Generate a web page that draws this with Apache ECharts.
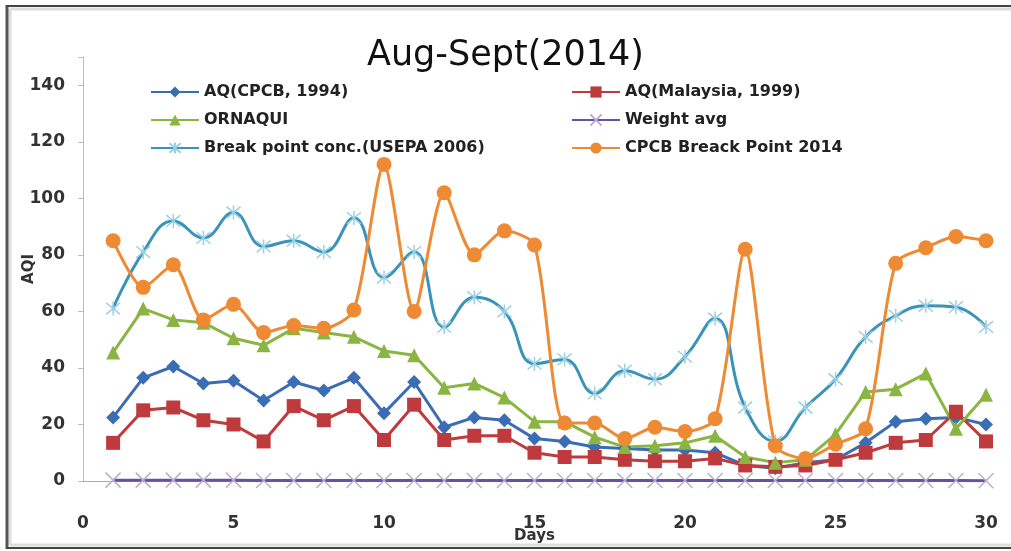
<!DOCTYPE html>
<html>
<head>
<meta charset="utf-8">
<script src="https://cdn.jsdelivr.net/npm/echarts@6/dist/echarts.min.js"></script>
<style>
html,body{margin:0;padding:0;background:#fff;}
#chart{width:1011px;height:551px;}
</style>
</head>
<body>
<div id="chart"></div>
<script>
var days = [1,2,3,4,5,6,7,8,9,10,11,12,13,14,15,16,17,18,19,20,21,22,23,24,25,26,27,28,29,30];
var aqCPCB = [22.5,36.5,40.5,34.5,35.5,28.5,35,32,36.5,24,35,19,22.5,21.5,15,14,12,11.5,11,11,10,5.5,4.5,6.5,7.5,13.5,21,22,22.5,20];
var aqMalaysia = [13.5,25,26,21.5,20,14,26.5,21.5,26.5,14.5,27,14.5,16,16,10,8.5,8.5,7.5,7,7,8,5.5,5,5.5,7.5,10,13.5,14.5,24.5,14];
var ornaqui = [45.5,61,57,56,50.5,48,54,52.5,51,46,44.5,33,34.5,29.5,21,21,15.5,12,12.5,13.5,16,8.5,6.5,7.5,16.5,31.5,32.5,38,18.5,30.5];
var weightAvg = [0.3,0.3,0.3,0.3,0.3,0.2,0.2,0.2,0.2,0.2,0.2,0.2,0.2,0.2,0.2,0.2,0.2,0.2,0.2,0.2,0.2,0.2,0.2,0.2,0.2,0.2,0.2,0.2,0.2,0.1];
var usepa = [61,81,92,86,95,83,85,81,93,72,81,54.5,65,60,41.5,43,31,39,36,44,57.5,26,14,26,36,51,58.5,62,61.5,54.5];
var cpcb2014 = [85,68.5,76.5,57,62.5,52.5,55,54,60.5,112,60,102,80,88.5,83.5,20.5,20.5,15,19,17.5,22,82,12.5,8,13,18.5,77,82.5,86.5,85];
var seriesNames = ['AQ(CPCB, 1994)','AQ(Malaysia, 1999)','ORNAQUI','Weight avg','Break point conc.(USEPA 2006)','CPCB Breack Point 2014'];
var yTicks = [0,20,40,60,80,100,120,140];
var xTicks = [0,5,10,15,20,25,30];

function pts(arr){ return days.map(function(d,i){ return [d, arr[i]]; }); }

var chart = echarts.init(document.getElementById('chart'));
var FONT = 'DejaVu Sans';
var xSym = 'path://M0,0L10,10M10,0L0,10';
var starSym = 'path://M0,0L10,10M10,0L0,10M5,-1L5,11';

var legendText = {fontFamily: FONT, fontSize: 16, fontWeight: 'bold', color: '#222'};

var option = {
  animation: false,
  backgroundColor: '#ffffff',
  title: {
    text: 'Aug-Sept(2014)',
    left: 'center',
    top: 33,
    textStyle: {fontFamily: FONT, fontSize: 35, fontWeight: 'normal', color: '#111'}
  },
  legend: [
    {
      orient: 'vertical', left: 150, top: 84, padding: 0, itemWidth: 48, itemHeight: 14, itemGap: 12,
      data: [seriesNames[0], seriesNames[2], seriesNames[4]],
      textStyle: legendText
    },
    {
      orient: 'vertical', left: 571, top: 84, padding: 0, itemWidth: 48, itemHeight: 14, itemGap: 12,
      data: [seriesNames[1], seriesNames[3], seriesNames[5]],
      textStyle: legendText
    }
  ],
  grid: {left: 83, right: 25, top: 57, bottom: 70, outerBoundsMode: 'none', containLabel: false},
  xAxis: {
    type: 'value', min: 0, max: 30, interval: 5,
    name: 'Days', nameLocation: 'middle', nameGap: 48, nameMoveOverlap: false,
    nameTextStyle: {fontFamily: FONT, fontSize: 15, fontWeight: 'bold', color: '#333'},
    axisLine: {show: true, onZero: true, lineStyle: {color: '#aaa', width: 1}},
    axisTick: {show: false},
    splitLine: {show: false},
    axisLabel: {margin: 34, fontFamily: FONT, fontSize: 17, fontWeight: 'bold', color: '#333',
      formatter: function(v){ return xTicks.indexOf(v) >= 0 ? String(v) : ''; }}
  },
  yAxis: {
    type: 'value', min: 0, max: 150, interval: 20,
    name: 'AQI', nameLocation: 'middle', nameGap: 46, nameMoveOverlap: false,
    nameTextStyle: {fontFamily: FONT, fontSize: 15, fontWeight: 'bold', color: '#333', padding: [0,0,0,0]},
    axisLine: {show: true, lineStyle: {color: '#bbb', width: 1}},
    axisTick: {show: true, length: 5, lineStyle: {color: '#bbb'}},
    splitLine: {show: false},
    axisLabel: {margin: 18, fontFamily: FONT, fontSize: 17, fontWeight: 'bold', color: '#333',
      formatter: function(v){ return yTicks.indexOf(v) >= 0 ? String(v) : ''; }}
  },
  series: [
    {
      name: seriesNames[0], type: 'line', data: pts(aqCPCB),
      symbol: 'diamond', symbolSize: 14,
      lineStyle: {color: '#3B6DB5', width: 3},
      itemStyle: {color: '#3B6DB5'}
    },
    {
      name: seriesNames[1], type: 'line', data: pts(aqMalaysia),
      symbol: 'rect', symbolSize: 14,
      lineStyle: {color: '#BE3A3C', width: 3},
      itemStyle: {color: '#BE3A3C'}
    },
    {
      name: seriesNames[2], type: 'line', data: pts(ornaqui),
      symbol: 'triangle', symbolSize: 14,
      lineStyle: {color: '#8AB542', width: 3},
      itemStyle: {color: '#8AB542'}
    },
    {
      name: seriesNames[3], type: 'line', data: pts(weightAvg),
      symbol: xSym, symbolSize: 15,
      lineStyle: {color: '#6B4FA0', width: 3},
      itemStyle: {color: 'rgba(0,0,0,0)', borderColor: '#B9AED3', borderWidth: 1.5}
    },
    {
      name: seriesNames[4], type: 'line', data: pts(usepa), smooth: 0.45,
      symbol: starSym, symbolSize: 14,
      lineStyle: {color: '#3A93B8', width: 3},
      itemStyle: {color: 'rgba(0,0,0,0)', borderColor: '#9BD0E4', borderWidth: 1.5}
    },
    {
      name: seriesNames[5], type: 'line', data: pts(cpcb2014), smooth: 0.25,
      symbol: 'circle', symbolSize: 15,
      lineStyle: {color: '#EE8A33', width: 3},
      itemStyle: {color: '#EE8A33'}
    }
  ],
  graphic: [
    {type: 'line', shape: {x1: 7, y1: 5, x2: 7, y2: 549}, style: {stroke: '#555', lineWidth: 3}, z: 100},
    {type: 'line', shape: {x1: 6, y1: 6, x2: 1011, y2: 6}, style: {stroke: '#444', lineWidth: 2}, z: 100},
    {type: 'line', shape: {x1: 6, y1: 548, x2: 1011, y2: 548}, style: {stroke: '#444', lineWidth: 2}, z: 100},
    {type: 'line', shape: {x1: 10, y1: 9, x2: 1011, y2: 9}, style: {stroke: '#ddd', lineWidth: 3}, z: 99},
    {type: 'line', shape: {x1: 10, y1: 9, x2: 10, y2: 545}, style: {stroke: '#ddd', lineWidth: 3}, z: 99},
    {type: 'line', shape: {x1: 10, y1: 545, x2: 1011, y2: 545}, style: {stroke: '#ddd', lineWidth: 3}, z: 99}
  ]
};
chart.setOption(option);
</script>
</body>
</html>
